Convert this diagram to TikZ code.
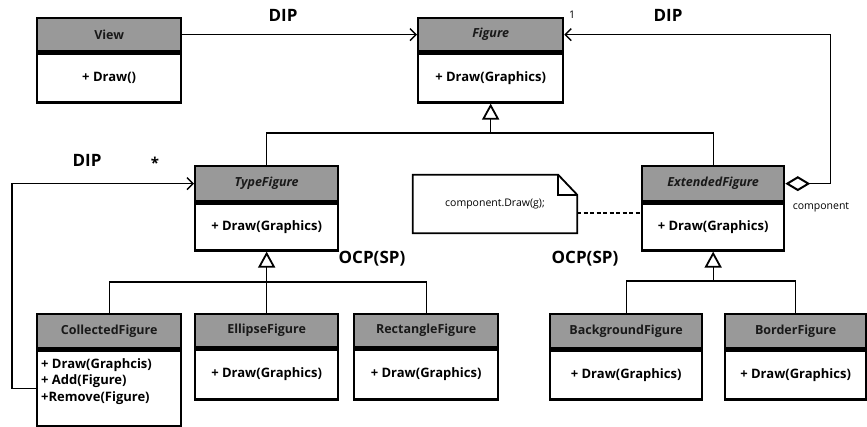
\documentclass[tikz,border=0pt]{standalone}
\usepackage{fontspec}
\setmainfont{Open Sans}
\usetikzlibrary{arrows.meta,calc}

\begin{document}
\begin{tikzpicture}[x=1pt,y=-1pt,
  hdr/.style={draw,line width=2.3pt,fill=black!40,inner sep=0pt,
    font=\bfseries\fontsize{12.5}{14}\selectfont,text=black!90},
  abstracthdr/.style={hdr,font=\bfseries\itshape\fontsize{12.5}{14}\selectfont},
  body/.style={draw,line width=2.3pt,fill=white,inner sep=0pt,align=center,
    font=\bfseries\fontsize{13}{16.5}\selectfont},
  ops/.style={inner sep=0pt,align=left,font=\bfseries\fontsize{13}{16.5}\selectfont},
  dep/.style={line width=1.3pt,-{Straight Barb[length=6pt,width=12pt,line width=1.4pt]}},
  gen/.style={line width=1.3pt,-{Triangle[open,length=16pt,width=17pt,line width=1.8pt]}},
  link/.style={line width=1.3pt},
  lbl/.style={font=\bfseries\fontsize{17}{19}\selectfont,inner sep=0pt},
  small/.style={font=\fontsize{10.5}{12}\selectfont,inner sep=0pt}
]
\useasboundingbox (0,0) rectangle (867,427);

% View
\node[hdr,minimum width=144,minimum height=33,anchor=north west] (viewh) at (36,17) {View};
\node[body,minimum width=144,minimum height=49,anchor=north] (viewb) at (viewh.south) {+ Draw()};

% Figure
\node[abstracthdr,minimum width=145,minimum height=33,anchor=north west] (figh) at (417,17) {Figure};
\node[body,minimum width=145,minimum height=49,anchor=north] (figb) at (figh.south) {+ Draw(Graphics)};

% TypeFigure
\node[abstracthdr,minimum width=143,minimum height=35,anchor=north west] (typeh) at (194,165) {TypeFigure};
\node[body,minimum width=143,minimum height=47,anchor=north] (typeb) at (typeh.south) {+ Draw(Graphics)};

% ExtendedFigure
\node[abstracthdr,minimum width=142,minimum height=35,anchor=north west] (exth) at (641,165) {ExtendedFigure};
\node[body,minimum width=142,minimum height=47,anchor=north] (extb) at (exth.south) {+ Draw(Graphics)};

% Concrete figures
\node[hdr,minimum width=144,minimum height=34,anchor=north west] (colh) at (36,313) {CollectedFigure};
\node[body,minimum width=144,minimum height=76,anchor=north] (colb) at (colh.south) {};
\node[ops,anchor=west] (colops) at ([xshift=5pt,yshift=7pt]colb.west)
  {+ Draw(Graphcis)\\+ Add(Figure)\\+Remove(Figure)};

\node[hdr,minimum width=143,minimum height=33,anchor=north west] (ellh) at (194,313) {EllipseFigure};
\node[body,minimum width=143,minimum height=50,anchor=north] (ellb) at (ellh.south) {+ Draw(Graphics)};

\node[hdr,minimum width=144,minimum height=33,anchor=north west] (recth) at (353,313) {RectangleFigure};
\node[body,minimum width=144,minimum height=50,anchor=north] (rectb) at (recth.south) {+ Draw(Graphics)};

\node[hdr,minimum width=152,minimum height=34,anchor=north west] (bgh) at (549,313) {BackgroundFigure};
\node[body,minimum width=152,minimum height=49,anchor=north] (bgb) at (bgh.south) {+ Draw(Graphics)};

\node[hdr,minimum width=141,minimum height=34,anchor=north west] (borh) at (724,313) {BorderFigure};
\node[body,minimum width=141,minimum height=49,anchor=north] (borb) at (borh.south) {+ Draw(Graphics)};

% Note
\node[small,minimum width=164,minimum height=58] (note) at (495,204) {component.Draw(g);};
\draw[line width=1.8pt,line join=miter]
  (note.north west) -- ($(note.north east)+(-19,0)$) -- ($(note.north east)+(0,20)$)
  -- (note.south east) -- (note.south west) -- cycle;
\draw[line width=1.8pt,line join=miter]
  ($(note.north east)+(-19,0)$) -- ($(note.north east)+(-19,20)$) -- ($(note.north east)+(0,20)$);
\draw[dash pattern=on 4pt off 2.5pt,line width=1.1pt]
  ([yshift=-9pt]note.east) -- ([yshift=-9pt]note.east -| extb.west);

% Dependencies
\draw[dep] (viewh.east) -- (figh.west);
\draw[line width=1.3pt,{Diamond[open,length=25pt,width=15pt,line width=2pt]}-{Straight Barb[length=6pt,width=12pt,line width=1.4pt]}]
  (exth.east) -- ++(45,0) |- (figh.east);
\draw[dep] (colb.west) -- ++(-24,0) |- (typeh.west);

% Generalizations
\coordinate (j1) at (figb.south |- 0,133);
\draw[link] (typeh.north) |- (j1) -| (exth.north);
\draw[gen] (j1) -- (figb.south);

\coordinate (j2) at (typeb.south |- 0,282);
\draw[link] (colh.north) |- (j2) -| (recth.north);
\draw[gen] (ellh.north) -- (typeb.south);

\coordinate (j3) at (extb.south |- 0,281);
\draw[link] (bgh.north) |- (j3) -| (borh.north);
\draw[gen] (j3) -- (extb.south);

% Labels
\node[lbl] (dip1) at (283,15) {DIP};
\node[lbl] (dip2) at (668,15) {DIP};
\node[lbl] (dip3) at (87,160) {DIP};
\node[font=\bfseries\fontsize{15}{15}\selectfont,inner sep=0pt] (star) at (155,163) {*};
\node[small] (one) at (572,15) {1};
\node[lbl] (ocp1) at (372,259) {OCP(SP)};
\node[lbl] (ocp2) at (585,259) {OCP(SP)};
\node[small] (comp) at (821,207) {component};
\end{tikzpicture}
\end{document}
